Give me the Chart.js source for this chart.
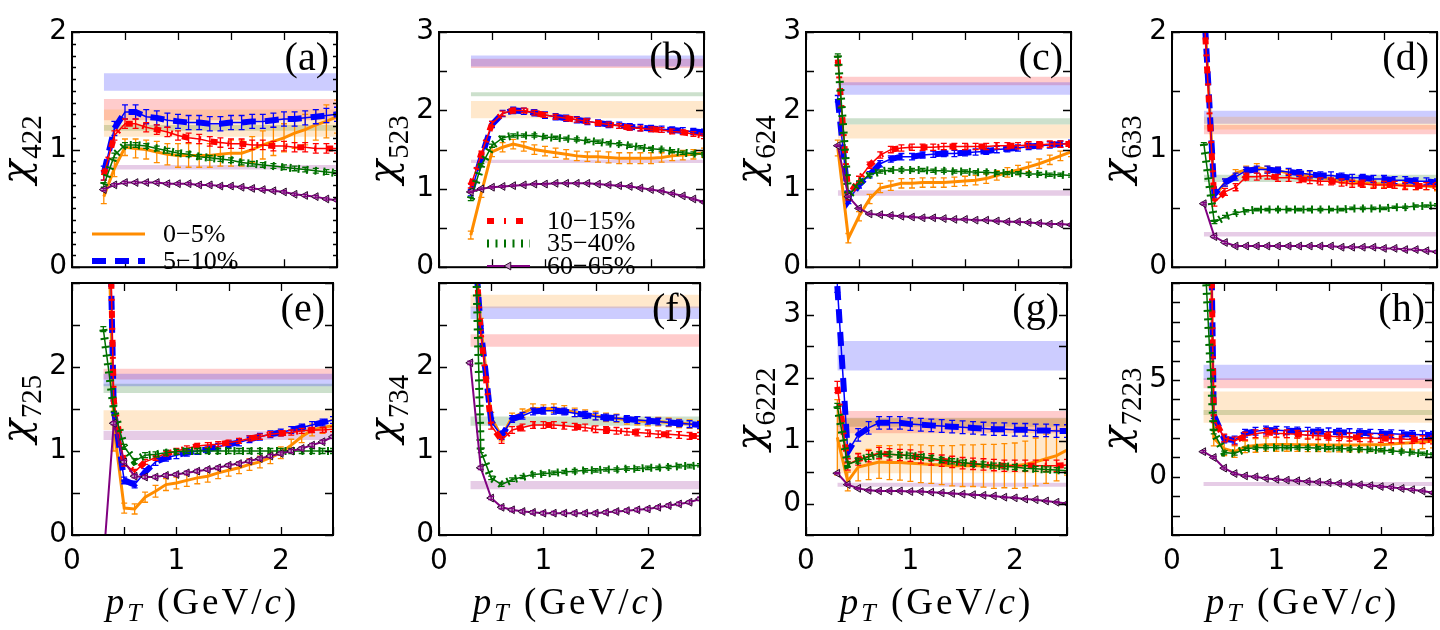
<!DOCTYPE html>
<html>
<head>
<meta charset="utf-8">
<script src="https://cdn.jsdelivr.net/npm/chart.js"></script>
<style>
html, body { margin: 0; padding: 0; background: #fff; }
#fig { position: relative; width: 1440px; height: 630px; overflow: hidden; background: #fff; }
#fig canvas { position: absolute; }
</style>
</head>
<body>
<div id="fig"></div>
<script>
// ── Dados ─────────────────────────────────────────────────────────────────
// pT (GeV/c) comum a todos os painéis
const PT = [0.3, 0.4, 0.5, 0.6, 0.7, 0.8, 0.9, 1.0, 1.1, 1.2, 1.3, 1.4, 1.5, 1.6, 1.7, 1.8, 1.9, 2.0, 2.1, 2.2, 2.3, 2.4, 2.5];

// (a) chi_422
const Y_A_0  = [0.60, 0.84, 1.02, 1.01, 1.00, 0.98, 0.96, 0.95, 0.95, 0.95, 0.95, 0.96, 0.97, 0.97, 1.00, 1.04, 1.07, 1.10, 1.14, 1.17, 1.21, 1.24, 1.28];
const Y_A_5  = [0.80, 1.18, 1.32, 1.32, 1.28, 1.27, 1.25, 1.24, 1.23, 1.23, 1.22, 1.22, 1.23, 1.23, 1.24, 1.24, 1.25, 1.26, 1.26, 1.27, 1.28, 1.29, 1.30];
const Y_A_10 = [0.78, 1.12, 1.22, 1.22, 1.19, 1.17, 1.15, 1.12, 1.10, 1.09, 1.07, 1.06, 1.05, 1.05, 1.04, 1.04, 1.03, 1.03, 1.02, 1.02, 1.01, 1.01, 1.01];
const Y_A_35 = [0.70, 0.95, 1.04, 1.04, 1.03, 1.01, 0.99, 0.97, 0.96, 0.94, 0.93, 0.92, 0.91, 0.89, 0.88, 0.87, 0.86, 0.85, 0.84, 0.83, 0.82, 0.81, 0.80];
const Y_A_60 = [0.66, 0.70, 0.72, 0.72, 0.72, 0.72, 0.71, 0.71, 0.71, 0.70, 0.70, 0.69, 0.69, 0.68, 0.67, 0.66, 0.65, 0.64, 0.62, 0.61, 0.60, 0.58, 0.57];
const ERR_A_0    = [0.06, 0.07, 0.07, 0.08, 0.08, 0.09, 0.09, 0.10, 0.10, 0.10, 0.10, 0.10, 0.11, 0.11, 0.11, 0.12, 0.12, 0.12, 0.13, 0.13, 0.13, 0.14, 0.14];
const ERR_A_REST = [0.06, 0.04, 0.02, 0.01];
const BAND_A_LO  = [1.11, 1.50, 1.25, 1.16, 0.83];
const BAND_A_HI  = [1.34, 1.65, 1.43, 1.21, 0.87];

// (b) chi_523
const Y_B_0  = [0.41, 0.95, 1.47, 1.53, 1.57, 1.54, 1.50, 1.48, 1.46, 1.44, 1.42, 1.41, 1.41, 1.40, 1.39, 1.39, 1.39, 1.39, 1.40, 1.42, 1.43, 1.44, 1.46];
const Y_B_5  = [0.95, 1.40, 1.82, 1.96, 2.00, 1.99, 1.97, 1.94, 1.92, 1.90, 1.88, 1.86, 1.84, 1.82, 1.81, 1.79, 1.78, 1.77, 1.76, 1.75, 1.74, 1.73, 1.72];
const Y_B_10 = [1.04, 1.45, 1.83, 1.96, 2.00, 2.00, 1.97, 1.94, 1.92, 1.90, 1.88, 1.86, 1.84, 1.82, 1.80, 1.78, 1.77, 1.76, 1.75, 1.73, 1.72, 1.70, 1.67];
const Y_B_35 = [0.87, 1.30, 1.55, 1.65, 1.68, 1.68, 1.68, 1.66, 1.65, 1.64, 1.63, 1.61, 1.60, 1.58, 1.57, 1.55, 1.53, 1.51, 1.50, 1.48, 1.46, 1.45, 1.44];
const Y_B_60 = [0.96, 1.00, 1.02, 1.03, 1.04, 1.05, 1.06, 1.06, 1.07, 1.07, 1.07, 1.07, 1.06, 1.05, 1.04, 1.03, 1.01, 0.99, 0.97, 0.94, 0.91, 0.87, 0.83];
const ERR_B_0    = [0.05, 0.06, 0.06, 0.06, 0.06, 0.06, 0.06, 0.06, 0.06, 0.06, 0.06, 0.06, 0.07, 0.07, 0.07, 0.07, 0.07, 0.07, 0.06, 0.06, 0.06, 0.06, 0.06];
const ERR_B_REST = [0.04, 0.03, 0.02, 0.01];
const BAND_B_LO  = [1.90, 2.56, 2.54, 2.18, 1.33];
const BAND_B_HI  = [2.12, 2.70, 2.66, 2.23, 1.37];

// (c) chi_624
const Y_C_0  = [1.52, 0.37, 0.65, 0.87, 1.01, 1.04, 1.07, 1.07, 1.08, 1.08, 1.08, 1.09, 1.10, 1.11, 1.13, 1.17, 1.21, 1.24, 1.28, 1.32, 1.37, 1.42, 1.47];
const Y_C_5  = [2.15, 0.85, 1.05, 1.18, 1.32, 1.38, 1.41, 1.41, 1.43, 1.44, 1.45, 1.45, 1.46, 1.47, 1.48, 1.50, 1.51, 1.52, 1.54, 1.55, 1.56, 1.57, 1.58];
const Y_C_10 = [2.65, 0.90, 1.12, 1.30, 1.43, 1.50, 1.52, 1.53, 1.53, 1.53, 1.54, 1.54, 1.54, 1.54, 1.54, 1.55, 1.55, 1.55, 1.56, 1.56, 1.57, 1.57, 1.57];
const Y_C_35 = [2.70, 0.90, 1.08, 1.18, 1.22, 1.24, 1.24, 1.24, 1.24, 1.23, 1.23, 1.22, 1.22, 1.21, 1.21, 1.20, 1.20, 1.20, 1.19, 1.19, 1.18, 1.18, 1.17];
const Y_C_60 = [1.55, 0.90, 0.75, 0.68, 0.67, 0.66, 0.65, 0.64, 0.63, 0.63, 0.62, 0.61, 0.61, 0.60, 0.60, 0.59, 0.58, 0.58, 0.57, 0.56, 0.55, 0.55, 0.54];
const ERR_C_0    = [0.10, 0.06, 0.06, 0.06, 0.06, 0.06, 0.06, 0.06, 0.06, 0.06, 0.06, 0.06, 0.06, 0.06, 0.06, 0.06, 0.06, 0.06, 0.06, 0.06, 0.06, 0.06, 0.06];
const ERR_C_REST = [0.04, 0.04, 0.02, 0.01];
const BAND_C_LO  = [1.64, 2.20, 2.32, 1.82, 0.91];
const BAND_C_HI  = [1.82, 2.36, 2.43, 1.90, 0.98];

// (d) chi_633
const Y_D_0  = [2.30, 0.60, 0.72, 0.80, 0.83, 0.85, 0.83, 0.82, 0.80, 0.79, 0.78, 0.76, 0.75, 0.74, 0.73, 0.72, 0.71, 0.71, 0.70, 0.70, 0.69, 0.69, 0.68];
const Y_D_5  = [2.25, 0.62, 0.72, 0.77, 0.82, 0.83, 0.83, 0.82, 0.81, 0.80, 0.79, 0.78, 0.78, 0.77, 0.76, 0.76, 0.75, 0.75, 0.74, 0.74, 0.73, 0.73, 0.72];
const Y_D_10 = [2.20, 0.55, 0.64, 0.68, 0.77, 0.77, 0.78, 0.76, 0.76, 0.75, 0.74, 0.73, 0.73, 0.72, 0.71, 0.71, 0.70, 0.70, 0.70, 0.69, 0.69, 0.69, 0.69];
const Y_D_35 = [1.05, 0.38, 0.43, 0.46, 0.48, 0.49, 0.49, 0.49, 0.49, 0.49, 0.49, 0.49, 0.49, 0.49, 0.50, 0.50, 0.50, 0.50, 0.51, 0.51, 0.52, 0.52, 0.53];
const Y_D_60 = [0.54, 0.26, 0.21, 0.18, 0.18, 0.18, 0.18, 0.18, 0.18, 0.18, 0.18, 0.18, 0.18, 0.17, 0.17, 0.17, 0.17, 0.16, 0.16, 0.15, 0.15, 0.14, 0.13];
const ERR_D_0    = [0.05, 0.03, 0.03, 0.03, 0.03, 0.03, 0.03, 0.03, 0.03, 0.03, 0.03, 0.03, 0.03, 0.03, 0.03, 0.03, 0.03, 0.03, 0.03, 0.03, 0.03, 0.03, 0.03];
const ERR_D_REST = [0.03, 0.03, 0.01, 0.01];
const BAND_D_LO  = [1.17, 1.22, 1.13, 0.725, 0.26];
const BAND_D_HI  = [1.28, 1.33, 1.21, 0.786, 0.30];

// (e) chi_725
const Y_E_0  = [6.00, 1.30, 0.32, 0.31, 0.45, 0.52, 0.60, 0.62, 0.65, 0.68, 0.70, 0.74, 0.77, 0.80, 0.84, 0.87, 0.92, 0.98, 1.07, 1.17, 1.25, 1.28, 1.30];
const Y_E_5  = [7.50, 1.50, 0.65, 0.60, 0.75, 0.87, 0.92, 0.95, 0.98, 1.00, 1.02, 1.05, 1.08, 1.10, 1.14, 1.17, 1.20, 1.22, 1.25, 1.28, 1.31, 1.34, 1.37];
const Y_E_10 = [7.50, 1.60, 0.85, 0.75, 0.87, 0.92, 0.97, 1.00, 1.03, 1.06, 1.07, 1.08, 1.10, 1.12, 1.15, 1.17, 1.20, 1.21, 1.22, 1.24, 1.25, 1.25, 1.26];
const Y_E_35 = [2.45, 1.50, 1.05, 0.88, 0.95, 0.96, 0.98, 0.99, 1.00, 1.00, 1.00, 1.00, 1.00, 1.00, 1.00, 1.00, 1.00, 1.00, 1.00, 1.00, 1.00, 1.00, 1.00];
const Y_E_60 = [-0.33, 1.33, 0.87, 0.70, 0.69, 0.69, 0.71, 0.72, 0.74, 0.76, 0.78, 0.80, 0.83, 0.85, 0.88, 0.91, 0.94, 0.97, 1.00, 1.03, 1.07, 1.11, 1.17];
const ERR_E_0    = [0.30, 0.30, 0.06, 0.06, 0.06, 0.07, 0.07, 0.07, 0.07, 0.07, 0.07, 0.07, 0.07, 0.07, 0.07, 0.07, 0.07, 0.07, 0.07, 0.07, 0.07, 0.07, 0.07];
const ERR_E_REST = [0.04, 0.03, 0.03, 0.02];
const BAND_E_LO  = [1.25, 1.77, 1.85, 1.69, 1.13];
const BAND_E_HI  = [1.485, 1.92, 1.98, 1.80, 1.24];

// (f) chi_734
const Y_F_0  = [4.30, 2.50, 1.40, 1.17, 1.40, 1.45, 1.51, 1.50, 1.51, 1.49, 1.46, 1.44, 1.42, 1.40, 1.39, 1.37, 1.36, 1.35, 1.35, 1.34, 1.33, 1.32, 1.31];
const Y_F_5  = [4.20, 2.45, 1.35, 1.18, 1.38, 1.42, 1.47, 1.48, 1.48, 1.47, 1.45, 1.43, 1.41, 1.40, 1.39, 1.38, 1.37, 1.36, 1.35, 1.34, 1.33, 1.32, 1.31];
const Y_F_10 = [4.30, 2.40, 1.30, 1.13, 1.25, 1.28, 1.31, 1.31, 1.31, 1.30, 1.29, 1.28, 1.26, 1.25, 1.24, 1.23, 1.22, 1.21, 1.20, 1.20, 1.19, 1.18, 1.18];
const Y_F_35 = [6.00, 1.00, 0.68, 0.60, 0.66, 0.69, 0.72, 0.73, 0.74, 0.75, 0.76, 0.77, 0.77, 0.78, 0.78, 0.79, 0.79, 0.80, 0.80, 0.81, 0.82, 0.82, 0.83];
const Y_F_60 = [2.05, 0.80, 0.44, 0.33, 0.30, 0.28, 0.27, 0.26, 0.26, 0.26, 0.26, 0.26, 0.26, 0.27, 0.28, 0.29, 0.30, 0.31, 0.33, 0.35, 0.37, 0.39, 0.43];
const ERR_F_0    = [0.10, 0.08, 0.06, 0.05, 0.05, 0.05, 0.05, 0.05, 0.05, 0.05, 0.05, 0.05, 0.05, 0.05, 0.05, 0.05, 0.05, 0.05, 0.05, 0.05, 0.05, 0.05, 0.05];
const ERR_F_REST = [0.04, 0.04, 0.02, 0.02];
const BAND_F_LO  = [2.70, 2.57, 2.24, 1.30, 0.545];
const BAND_F_HI  = [2.86, 2.72, 2.39, 1.41, 0.644];

// (g) chi_6222
const Y_G_0  = [1.05, 0.35, 0.58, 0.62, 0.66, 0.65, 0.65, 0.64, 0.63, 0.62, 0.61, 0.60, 0.60, 0.60, 0.60, 0.59, 0.60, 0.60, 0.62, 0.66, 0.71, 0.76, 0.85];
const Y_G_5  = [3.45, 0.82, 1.09, 1.20, 1.28, 1.28, 1.28, 1.26, 1.25, 1.24, 1.23, 1.22, 1.21, 1.20, 1.19, 1.18, 1.18, 1.17, 1.17, 1.16, 1.16, 1.15, 1.15];
const Y_G_10 = [1.85, 0.62, 0.70, 0.75, 0.80, 0.78, 0.77, 0.76, 0.73, 0.70, 0.68, 0.66, 0.64, 0.63, 0.62, 0.61, 0.60, 0.60, 0.60, 0.60, 0.60, 0.60, 0.61];
const Y_G_35 = [1.55, 0.62, 0.68, 0.74, 0.78, 0.78, 0.77, 0.76, 0.74, 0.72, 0.69, 0.67, 0.65, 0.63, 0.62, 0.60, 0.59, 0.58, 0.56, 0.55, 0.54, 0.53, 0.52];
const Y_G_60 = [0.48, 0.30, 0.24, 0.21, 0.20, 0.20, 0.20, 0.19, 0.19, 0.18, 0.17, 0.16, 0.15, 0.14, 0.13, 0.12, 0.10, 0.09, 0.07, 0.06, 0.04, 0.02, 0.00];
const ERR_G_0    = [0.60, 0.15, 0.22, 0.24, 0.26, 0.27, 0.28, 0.29, 0.30, 0.30, 0.31, 0.32, 0.33, 0.33, 0.34, 0.35, 0.35, 0.36, 0.37, 0.38, 0.39, 0.40, 0.40];
const ERR_G_REST = [0.10, 0.09, 0.04, 0.01];
const BAND_G_LO  = [0.48, 2.11, 1.115, 1.22, 0.265];
const BAND_G_HI  = [1.35, 2.58, 1.47, 1.36, 0.33];

// (h) chi_7223
const Y_H_0  = [40.0, 2.00, 1.45, 1.30, 1.55, 1.62, 1.66, 1.67, 1.67, 1.66, 1.65, 1.65, 1.64, 1.64, 1.64, 1.64, 1.65, 1.66, 1.70, 1.73, 1.76, 1.80, 1.84];
const Y_H_5  = [40.0, 3.20, 1.95, 1.90, 2.25, 2.35, 2.42, 2.40, 2.38, 2.37, 2.35, 2.33, 2.32, 2.30, 2.28, 2.27, 2.25, 2.24, 2.22, 2.20, 2.18, 2.17, 2.15];
const Y_H_10 = [40.0, 3.00, 2.00, 1.85, 2.10, 2.22, 2.30, 2.25, 2.22, 2.20, 2.15, 2.12, 2.10, 2.07, 2.05, 2.02, 2.00, 1.98, 1.96, 1.95, 1.93, 1.92, 1.90];
const Y_H_35 = [13.0, 2.30, 1.25, 1.20, 1.45, 1.50, 1.52, 1.52, 1.52, 1.51, 1.50, 1.49, 1.48, 1.46, 1.44, 1.42, 1.40, 1.37, 1.34, 1.30, 1.25, 1.20, 1.15];
const Y_H_60 = [1.30, 1.00, 0.45, 0.17, 0.05, 0.00, -0.08, -0.13, -0.17, -0.20, -0.24, -0.27, -0.30, -0.34, -0.37, -0.41, -0.45, -0.50, -0.54, -0.60, -0.66, -0.73, -0.82];
const ERR_H_0    = [0.50, 0.40, 0.35, 0.30, 0.30, 0.35, 0.35, 0.35, 0.35, 0.35, 0.35, 0.35, 0.35, 0.35, 0.35, 0.35, 0.35, 0.35, 0.35, 0.35, 0.35, 0.35, 0.35];
const ERR_H_REST = [0.20, 0.20, 0.08, 0.05];
const BAND_H_LO  = [2.79, 5.00, 4.57, 3.19, -0.47];
const BAND_H_HI  = [4.40, 5.78, 5.09, 3.45, -0.26];

const X_MAX = 2.5;

// ── Estilos ───────────────────────────────────────────────────────────────

const SERIES = [
    { name: "0−5%",   color: "#ff8c00", width: 3 },
    { name: "5−10%",  color: "#0000ff", width: 1.5, thick: 6, dash: [14, 9] },
    { name: "10−15%", color: "#ff0000", width: 1.5, thick: 6, dash: [7, 10, 2, 10] },
    { name: "35−40%", color: "#007000", width: 1.5, thick: 8, dash: [2, 6.5] },
    { name: "60−65%", color: "#800080", width: 2, marker: true }
];

const BAND_COLORS = [
    "rgba(255,140,0,0.2)",
    "rgba(0,0,255,0.2)",
    "rgba(255,0,0,0.2)",
    "rgba(0,100,0,0.2)",
    "rgba(128,0,128,0.2)"
];

const COL_LEFT = [72, 439, 806, 1172];
const ROW_TOP  = [32, 283];
const PLOT_W   = 265;
const PLOT_H   = [251, 252];
const AXIS_W   = 72;
const PAD_TOP  = 32;
const PAD_R    = 6;
const BOTTOM   = [6, 95];

const TICK_FONT = { family: "DejaVu Sans", size: 28 };
const SERIF = "\"Liberation Serif\", \"DejaVu Serif\", serif";

const PANELS = [
    { tag: "(a)", sub: "422",  row: 0, col: 0, yMin: 0,    yMax: 2,   yStep: 0.1, yLabels: [0, 1, 2],    minor: true,
      ys: [Y_A_0, Y_A_5, Y_A_10, Y_A_35, Y_A_60], err0: ERR_A_0, errRest: ERR_A_REST, lo: BAND_A_LO, hi: BAND_A_HI,
      legend: { items: [0, 1], x: 20, y: 202, dy: 27, len: 53, tx: 91 } },
    { tag: "(b)", sub: "523",  row: 0, col: 1, yMin: 0,    yMax: 3,   yStep: 0.5, yLabels: [0, 1, 2, 3],
      ys: [Y_B_0, Y_B_5, Y_B_10, Y_B_35, Y_B_60], err0: ERR_B_0, errRest: ERR_B_REST, lo: BAND_B_LO, hi: BAND_B_HI,
      legend: { items: [2, 3, 4], x: 48, y: 189, dy: 22.5, len: 43, tx: 108 } },
    { tag: "(c)", sub: "624",  row: 0, col: 2, yMin: 0,    yMax: 3,   yStep: 0.5, yLabels: [0, 1, 2, 3],
      ys: [Y_C_0, Y_C_5, Y_C_10, Y_C_35, Y_C_60], err0: ERR_C_0, errRest: ERR_C_REST, lo: BAND_C_LO, hi: BAND_C_HI },
    { tag: "(d)", sub: "633",  row: 0, col: 3, yMin: 0,    yMax: 2,   yStep: 0.5, yLabels: [0, 1, 2],
      ys: [Y_D_0, Y_D_5, Y_D_10, Y_D_35, Y_D_60], err0: ERR_D_0, errRest: ERR_D_REST, lo: BAND_D_LO, hi: BAND_D_HI },
    { tag: "(e)", sub: "725",  row: 1, col: 0, yMin: 0,    yMax: 3,   yStep: 0.5, yLabels: [0, 1, 2],
      ys: [Y_E_0, Y_E_5, Y_E_10, Y_E_35, Y_E_60], err0: ERR_E_0, errRest: ERR_E_REST, lo: BAND_E_LO, hi: BAND_E_HI },
    { tag: "(f)", sub: "734",  row: 1, col: 1, yMin: 0,    yMax: 3,   yStep: 0.5, yLabels: [0, 1, 2],
      ys: [Y_F_0, Y_F_5, Y_F_10, Y_F_35, Y_F_60], err0: ERR_F_0, errRest: ERR_F_REST, lo: BAND_F_LO, hi: BAND_F_HI },
    { tag: "(g)", sub: "6222", row: 1, col: 2, yMin: -0.5, yMax: 3.5, yStep: 0.5, yLabels: [0, 1, 2, 3],
      ys: [Y_G_0, Y_G_5, Y_G_10, Y_G_35, Y_G_60], err0: ERR_G_0, errRest: ERR_G_REST, lo: BAND_G_LO, hi: BAND_G_HI },
    { tag: "(h)", sub: "7223", row: 1, col: 3, yMin: -3,   yMax: 10,  yStep: 1,   yLabels: [0, 5],
      ys: [Y_H_0, Y_H_5, Y_H_10, Y_H_35, Y_H_60], err0: ERR_H_0, errRest: ERR_H_REST, lo: BAND_H_LO, hi: BAND_H_HI }
];

// ── Helpers ───────────────────────────────────────────────────────────────

const PANEL_OF = new WeakMap();

function near(a, b) {
    return Math.abs(a - b) < 1e-6;
}

function errAt(errors, i) {
    return Array.isArray(errors) ? errors[i] : errors;
}

function setDash(ctx, s) {
    if (s.thick) {
        ctx.lineWidth = s.thick;
        ctx.setLineDash(s.dash);
    } else {
        ctx.lineWidth = s.width;
        ctx.setLineDash([]);
    }
}

// ── Plugin: barras de erro, ticks internos, moldura e textos ──────────────

const framePlugin = {
    id: "frame",

    afterDatasetDraw(chart, args) {
        const d = chart.data.datasets[args.index];
        if (!d.errors) return;
        const { ctx, chartArea: a, scales: { x, y } } = chart;
        ctx.save();
        ctx.beginPath();
        ctx.rect(a.left, a.top, a.right - a.left, a.bottom - a.top);
        ctx.clip();
        ctx.strokeStyle = d.borderColor;
        ctx.lineWidth = 1.3;
        ctx.beginPath();
        d.data.forEach((pt, i) => {
            const e   = errAt(d.errors, i);
            const px  = x.getPixelForValue(pt.x);
            const top = y.getPixelForValue(pt.y + e);
            const bot = y.getPixelForValue(pt.y - e);
            ctx.moveTo(px, top);     ctx.lineTo(px, bot);
            ctx.moveTo(px - 3, top); ctx.lineTo(px + 3, top);
            ctx.moveTo(px - 3, bot); ctx.lineTo(px + 3, bot);
        });
        ctx.stroke();
        ctx.restore();
    },

    afterDraw(chart) {
        const p = PANEL_OF.get(chart.canvas);
        const { ctx, chartArea: a, scales: { x, y } } = chart;

        ctx.save();
        ctx.strokeStyle = "#000";
        ctx.lineWidth = 1.3;
        ctx.beginPath();
        x.ticks.forEach(t => {
            const px = Math.round(x.getPixelForValue(t.value)) + 0.5;
            ctx.moveTo(px, a.bottom); ctx.lineTo(px, a.bottom - 8);
            ctx.moveTo(px, a.top);    ctx.lineTo(px, a.top + 8);
        });
        y.ticks.forEach(t => {
            const len = p.minor && !p.yLabels.some(l => near(l, t.value)) ? 4 : 8;
            const py = Math.round(y.getPixelForValue(t.value)) + 0.5;
            ctx.moveTo(a.left, py);  ctx.lineTo(a.left + len, py);
            ctx.moveTo(a.right, py); ctx.lineTo(a.right - len, py);
        });
        ctx.stroke();

        ctx.lineWidth = 2;
        ctx.strokeRect(a.left, a.top, a.right - a.left, a.bottom - a.top);

        // rótulo do painel
        ctx.fillStyle = "#000";
        ctx.font = "40px " + SERIF;
        ctx.textAlign = "right";
        ctx.textBaseline = "alphabetic";
        ctx.fillText(p.tag, a.right - 8, a.top + 38);

        drawYTitle(ctx, a, p);
        if (p.row === 1) drawXTitle(ctx, a);
        if (p.legend) drawLegend(ctx, a, p.legend);
        ctx.restore();
    }
};

function drawYTitle(ctx, a, p) {
    ctx.save();
    ctx.translate(a.left - 43, (a.top + a.bottom) / 2);
    ctx.rotate(-Math.PI / 2);
    ctx.textAlign = "left";
    ctx.textBaseline = "alphabetic";
    ctx.fillStyle = "#000";
    const chiFont = "italic 40px \"DejaVu Serif\", serif";
    const subFont = "29px " + SERIF;
    ctx.font = chiFont;
    const wChi = ctx.measureText("χ").width;
    ctx.font = subFont;
    const wSub = ctx.measureText(p.sub).width;
    const x0 = -(wChi + wSub + 1) / 2;
    ctx.font = chiFont;
    ctx.fillText("χ", x0, 0);
    ctx.font = subFont;
    ctx.fillText(p.sub, x0 + wChi + 1, 12);
    ctx.restore();
}

function drawXTitle(ctx, a) {
    const parts = [
        { t: "p",       f: "italic 37px " + SERIF, dy: 0 },
        { t: "T",       f: "italic 26px " + SERIF, dy: 7 },
        { t: " (GeV/",  f: "37px " + SERIF,        dy: 0 },
        { t: "c",       f: "italic 37px " + SERIF, dy: 0 },
        { t: ")",       f: "37px " + SERIF,        dy: 0 }
    ];
    ctx.save();
    ctx.letterSpacing = "3px";
    ctx.textAlign = "left";
    ctx.textBaseline = "alphabetic";
    ctx.fillStyle = "#000";
    let total = 0;
    parts.forEach(s => { ctx.font = s.f; s.w = ctx.measureText(s.t).width; total += s.w; });
    let cx = (a.left + a.right) / 2 - total / 2;
    const base = a.bottom + 79;
    parts.forEach(s => {
        ctx.font = s.f;
        ctx.fillText(s.t, cx, base + s.dy);
        cx += s.w;
    });
    ctx.restore();
}

function drawLegend(ctx, a, L) {
    ctx.save();
    L.items.forEach((k, row) => {
        const s  = SERIES[k];
        const yy = a.top + L.y + row * L.dy;
        const x0 = a.left + L.x;
        ctx.strokeStyle = s.color;
        setDash(ctx, s);
        ctx.beginPath();
        ctx.moveTo(x0, yy);
        ctx.lineTo(x0 + L.len, yy);
        ctx.stroke();
        ctx.setLineDash([]);
        if (s.marker) {
            ctx.fillStyle = "#c58fc5";
            ctx.strokeStyle = "#2a0a2a";
            ctx.lineWidth = 1;
            Chart.helpers.drawPoint(ctx, { pointStyle: "triangle", radius: 4.5, rotation: -90, borderWidth: 1 }, x0 + L.len / 2, yy);
        }
        ctx.fillStyle = "#000";
        ctx.font = "26px " + SERIF;
        ctx.textAlign = "left";
        ctx.textBaseline = "middle";
        ctx.fillText(s.name, a.left + L.tx, yy + 1);
    });
    ctx.restore();
}

// ── Montagem dos datasets ─────────────────────────────────────────────────

function buildDatasets(p) {
    const ds = [];

    // faixas horizontais (pares lo/hi preenchidos entre si)
    p.lo.forEach((lo, k) => {
        ds.push({
            data: [{ x: PT[0], y: lo }, { x: X_MAX, y: lo }],
            borderWidth: 0, pointRadius: 0, fill: false, order: 20, clip: 0
        });
        ds.push({
            data: [{ x: PT[0], y: p.hi[k] }, { x: X_MAX, y: p.hi[k] }],
            borderWidth: 0, pointRadius: 0, fill: "-1",
            backgroundColor: BAND_COLORS[k], order: 20, clip: 0
        });
    });

    SERIES.forEach((s, k) => {
        const pts = PT.map((x, i) => ({ x, y: p.ys[k][i] }));
        ds.push({
            data: pts,
            borderColor: s.color,
            borderWidth: s.width,
            pointRadius: s.marker ? 4.5 : 0,
            pointStyle: "triangle",
            pointRotation: -90,
            pointBackgroundColor: "#c58fc5",
            pointBorderColor: "#2a0a2a",
            pointBorderWidth: 1,
            fill: false,
            tension: 0,
            clip: 0,
            order: 10 - 2 * k,
            errors: k === 0 ? p.err0 : p.errRest[k - 1]
        });
        if (s.thick) {
            ds.push({
                data: pts,
                borderColor: s.color,
                borderWidth: s.thick,
                borderDash: s.dash,
                pointRadius: 0,
                fill: false,
                tension: 0,
                clip: 0,
                order: 9 - 2 * k
            });
        }
    });
    return ds;
}

// ── Render ────────────────────────────────────────────────────────────────

function renderPanel(p) {
    const fig = document.getElementById("fig");
    const canvas = document.createElement("canvas");
    const w = AXIS_W + PLOT_W + PAD_R;
    const h = PAD_TOP + PLOT_H[p.row] + BOTTOM[p.row];
    canvas.width = w;
    canvas.height = h;
    canvas.style.left = (COL_LEFT[p.col] - AXIS_W) + "px";
    canvas.style.top  = (ROW_TOP[p.row] - PAD_TOP) + "px";
    canvas.style.width = w + "px";
    canvas.style.height = h + "px";
    fig.appendChild(canvas);
    PANEL_OF.set(canvas, p);

    new Chart(canvas, {
        type: "line",
        data: { datasets: buildDatasets(p) },
        options: {
            responsive: false,
            animation: false,
            events: [],
            layout: { padding: { top: PAD_TOP, right: PAD_R, left: 0, bottom: 0 } },
            plugins: { legend: { display: false }, tooltip: { enabled: false } },
            scales: {
                x: {
                    type: "linear",
                    min: 0,
                    max: X_MAX,
                    grid: { display: false, drawTicks: false },
                    border: { display: false },
                    ticks: {
                        display: p.row === 1,
                        stepSize: 0.5,
                        autoSkip: false,
                        maxRotation: 0,
                        padding: 10,
                        color: "#000",
                        font: TICK_FONT,
                        callback: v => (near(v, Math.round(v)) ? String(Math.round(v)) : "")
                    },
                    afterFit: s => { s.height = BOTTOM[p.row]; }
                },
                y: {
                    type: "linear",
                    min: p.yMin,
                    max: p.yMax,
                    grid: { display: false, drawTicks: false },
                    border: { display: false },
                    ticks: {
                        stepSize: p.yStep,
                        autoSkip: false,
                        padding: 5,
                        color: "#000",
                        font: TICK_FONT,
                        callback: v => (p.yLabels.some(l => near(l, v)) ? String(Math.round(v)) : "")
                    },
                    afterFit: s => { s.width = AXIS_W; }
                }
            }
        },
        plugins: [framePlugin]
    });
}

PANELS.forEach(renderPanel);
</script>
</body>
</html>
